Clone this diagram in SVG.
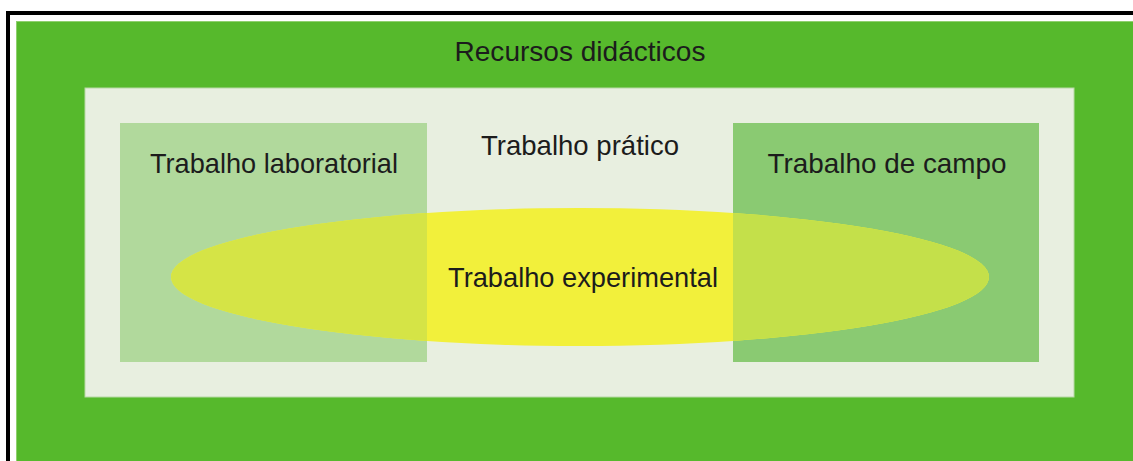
<svg xmlns="http://www.w3.org/2000/svg" width="1133" height="461" viewBox="0 0 1133 461">
  <style>
    .lbl { font-family: "Liberation Sans", Arial, sans-serif; font-size: 28px; fill: #1c1c1c; text-anchor: middle; }
  </style>
  <defs>
    <clipPath id="clipLeft"><rect x="120" y="123" width="307" height="239"/></clipPath>
    <clipPath id="clipRight"><rect x="733" y="123" width="306" height="239"/></clipPath>
  </defs>
  <rect x="0" y="0" width="1133" height="461" fill="#ffffff"/>
  <g id="frame">
    <rect x="6" y="11" width="1127" height="4" fill="#000000"/>
    <rect x="6" y="11" width="4" height="450" fill="#000000"/>
  </g>
  <g id="recursos">
    <rect x="16" y="21" width="1117" height="440" fill="#56b92c"/>
    <rect x="16" y="21" width="1117" height="1" fill="#8fd06e"/>
    <rect x="16" y="21" width="1" height="440" fill="#8fd06e"/>
    <text class="lbl" x="580" y="61" textLength="251" lengthAdjust="spacingAndGlyphs">Recursos didácticos</text>
  </g>
  <g id="pratico">
    <rect x="85" y="88" width="989" height="309" fill="#e8efe0" stroke="#b7d9a5" stroke-width="1"/>
    <text class="lbl" x="580" y="155" textLength="198" lengthAdjust="spacingAndGlyphs">Trabalho prático</text>
  </g>
  <g id="laboratorial">
    <rect x="120" y="123" width="307" height="239" fill="#b1d99c"/>
    <text class="lbl" x="274" y="173" textLength="248" lengthAdjust="spacingAndGlyphs">Trabalho laboratorial</text>
  </g>
  <g id="campo">
    <rect x="733" y="123" width="306" height="239" fill="#8aca72"/>
    <text class="lbl" x="887" y="173" textLength="239" lengthAdjust="spacingAndGlyphs">Trabalho de campo</text>
  </g>
  <g id="experimental">
    <ellipse cx="580" cy="277" rx="409" ry="69" fill="#f2f03b"/>
    <ellipse cx="580" cy="277" rx="409" ry="69" fill="#d5e446" clip-path="url(#clipLeft)"/>
    <ellipse cx="580" cy="277" rx="409" ry="69" fill="#c4e04a" clip-path="url(#clipRight)"/>
    <text class="lbl" x="583" y="287" textLength="270" lengthAdjust="spacingAndGlyphs">Trabalho experimental</text>
  </g>
  <g id="connectors"></g>
</svg>
